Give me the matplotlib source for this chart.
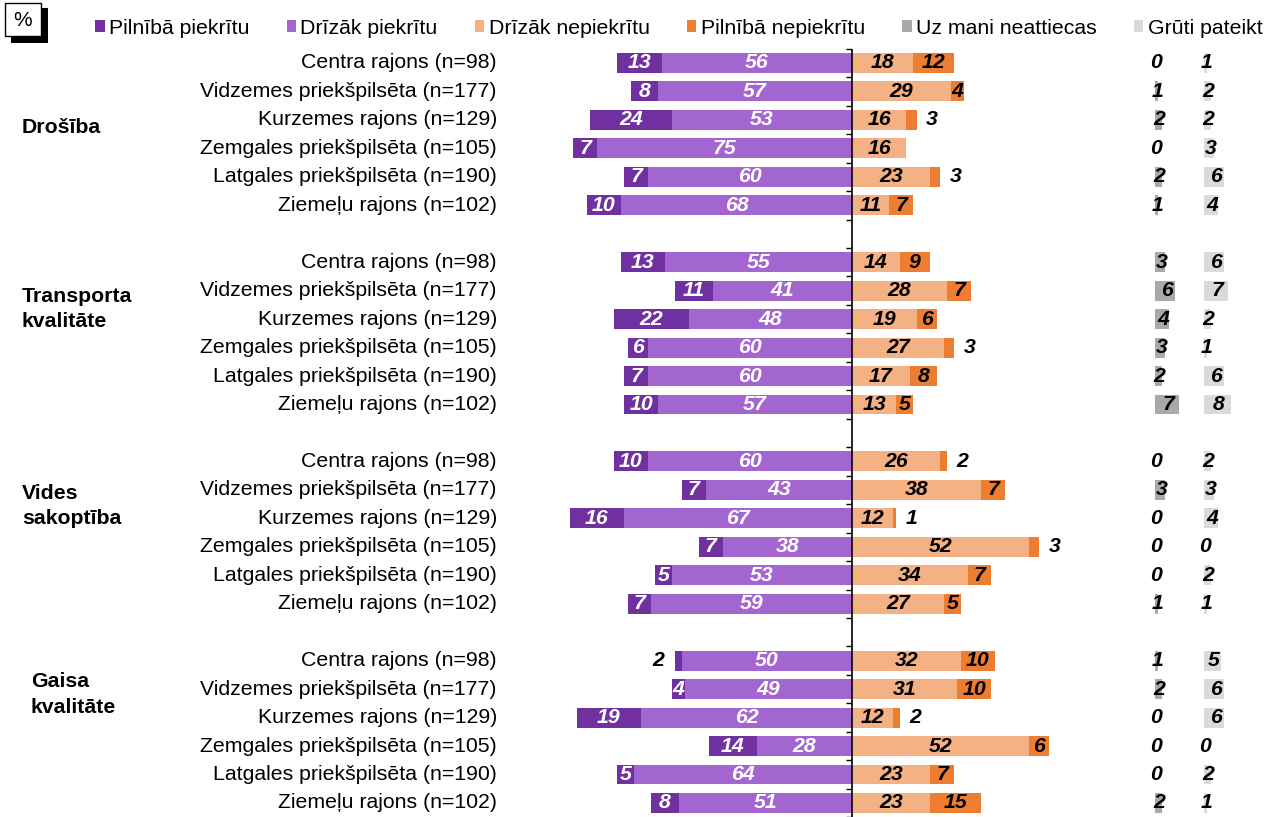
import matplotlib
matplotlib.use("Agg")
import matplotlib.pyplot as plt
from matplotlib.patches import Rectangle, Patch

plt.rcParams['font.family'] = ['Liberation Sans', 'DejaVu Sans']

groups = ["Drošība", "Transporta\nkvalitāte", "Vides\nsakoptība", "Gaisa\nkvalitāte"]
districts = ["Centra rajons (n=98)", "Vidzemes priekšpilsēta (n=177)", "Kurzemes rajons (n=129)",
             "Zemgales priekšpilsēta (n=105)", "Latgales priekšpilsēta (n=190)", "Ziemeļu rajons (n=102)"]
legend_labels = ["Pilnībā piekrītu", "Drīzāk piekrītu", "Drīzāk nepiekrītu",
                 "Pilnībā nepiekrītu", "Uz mani neattiecas", "Grūti pateikt"]

# per group, per district
fully_agree = [[13, 8, 24, 7, 7, 10],
               [13, 11, 22, 6, 7, 10],
               [10, 7, 16, 7, 5, 7],
               [2, 4, 19, 14, 5, 8]]
rather_agree = [[56, 57, 53, 75, 60, 68],
                [55, 41, 48, 60, 60, 57],
                [60, 43, 67, 38, 53, 59],
                [50, 49, 62, 28, 64, 51]]
rather_disagree = [[18, 29, 16, 16, 23, 11],
                   [14, 28, 19, 27, 17, 13],
                   [26, 38, 12, 52, 34, 27],
                   [32, 31, 12, 52, 23, 23]]
fully_disagree = [[12, 4, 3, 0, 3, 7],
                  [9, 7, 6, 3, 8, 5],
                  [2, 7, 1, 3, 7, 5],
                  [10, 10, 2, 6, 7, 15]]
not_relevant = [[0, 1, 2, 0, 2, 1],
                [3, 6, 4, 3, 2, 7],
                [0, 3, 0, 0, 0, 1],
                [1, 2, 0, 0, 0, 2]]
hard_to_say = [[1, 2, 2, 3, 6, 4],
               [6, 7, 2, 1, 6, 8],
               [2, 3, 4, 0, 2, 1],
               [5, 6, 6, 0, 2, 1]]

colors = ["#7030A0", "#A366D1", "#F4B183", "#ED7D31", "#A9A9A9", "#DADADA"]

W, H = 1266, 817
fig = plt.figure(figsize=(W / 100, H / 100), dpi=100)
ax = fig.add_axes([0, 0, 1, 1])
X0, SX = 852, 3.4
Y0, SY = 63, 28.46
ax.set_xlim((0 - X0) / SX, (W - X0) / SX)
ax.set_ylim((H - Y0) / SY, (0 - Y0) / SY)
ax.axis("off")

UZ_START = (1155 - X0) / SX
GR_START = (1204 - X0) / SX
FS = 15.3
BH = 0.7

for g in range(len(groups)):
    for r in range(len(districts)):
        y = g * 7 + r
        fa, ra = fully_agree[g][r], rather_agree[g][r]
        rd, fd = rather_disagree[g][r], fully_disagree[g][r]
        nr, hs = not_relevant[g][r], hard_to_say[g][r]
        ax.barh(y, -ra, left=0, height=BH, color=colors[1], edgecolor="none")
        ax.barh(y, -fa, left=-ra, height=BH, color=colors[0], edgecolor="none")
        ax.barh(y, rd, left=0, height=BH, color=colors[2], edgecolor="none")
        ax.barh(y, fd, left=rd, height=BH, color=colors[3], edgecolor="none")
        ax.barh(y, nr, left=UZ_START, height=BH, color=colors[4], edgecolor="none")
        ax.barh(y, hs, left=GR_START, height=BH, color=colors[5], edgecolor="none")

        kw = dict(fontsize=FS, fontweight="bold", fontstyle="italic", va="center")
        ax.text(-ra / 2, y, str(ra), color="white", ha="center", **kw)
        if fa >= 4:
            ax.text(-ra - fa / 2, y, str(fa), color="white", ha="center", **kw)
        else:
            ax.text(-ra - fa - 3.2, y, str(fa), color="black", ha="right", **kw)
        ax.text(rd / 2, y, str(rd), color="black", ha="center", **kw)
        if fd >= 4:
            ax.text(rd + fd / 2, y, str(fd), color="black", ha="center", **kw)
        elif fd > 0:
            ax.text(rd + fd + 2.8, y, str(fd), color="black", ha="left", **kw)
        ax.text(UZ_START + nr / 2 + 0.4, y, str(nr), color="black", ha="center", **kw)
        ax.text(GR_START + hs / 2 + 0.4, y, str(hs), color="black", ha="center", **kw)

        ax.text((497 - X0) / SX, y, districts[r], ha="right", va="center", fontsize=FS)

# group labels
group_y = [2.25, 8.64, 15.57, 22.2]
group_x = [22, 22, 22, 31]
for g, lab in enumerate(groups):
    ax.text((group_x[g] - X0) / SX, group_y[g], lab, ha="left", va="center",
            fontsize=FS, fontweight="bold", linespacing=1.45)

# center axis line and ticks
n_rows = 27
ax.vlines(0, -0.5, (H - Y0) / SY, color="black", lw=1.2)
ax.hlines([k + 0.5 for k in range(-1, n_rows)], -6 / SX, 0, color="black", lw=1.0)

# % box with shadow
ft = fig.transFigure
fig.patches.append(Rectangle((11 / W, 1 - 43 / H), 37 / W, 35 / H, transform=ft,
                             facecolor="black", edgecolor="none", zorder=1))
fig.patches.append(Rectangle((5 / W, 1 - 36 / H), 36 / W, 33 / H, transform=ft,
                             facecolor="white", edgecolor="black", lw=1, zorder=2))
fig.text(23 / W, 1 - 20 / H, "%", ha="center", va="center", fontsize=15, zorder=3)

handles = [Patch(facecolor=c, edgecolor="none") for c in colors]
fig.legend(handles, legend_labels, loc="center left", bbox_to_anchor=(95 / W, 1 - 28 / H),
           ncol=6, frameon=False, fontsize=FS, handlelength=0.45, handleheight=0.45,
           handletextpad=0.2, columnspacing=1.75, borderpad=0, borderaxespad=0)

fig.savefig("out.png", dpi=100)
